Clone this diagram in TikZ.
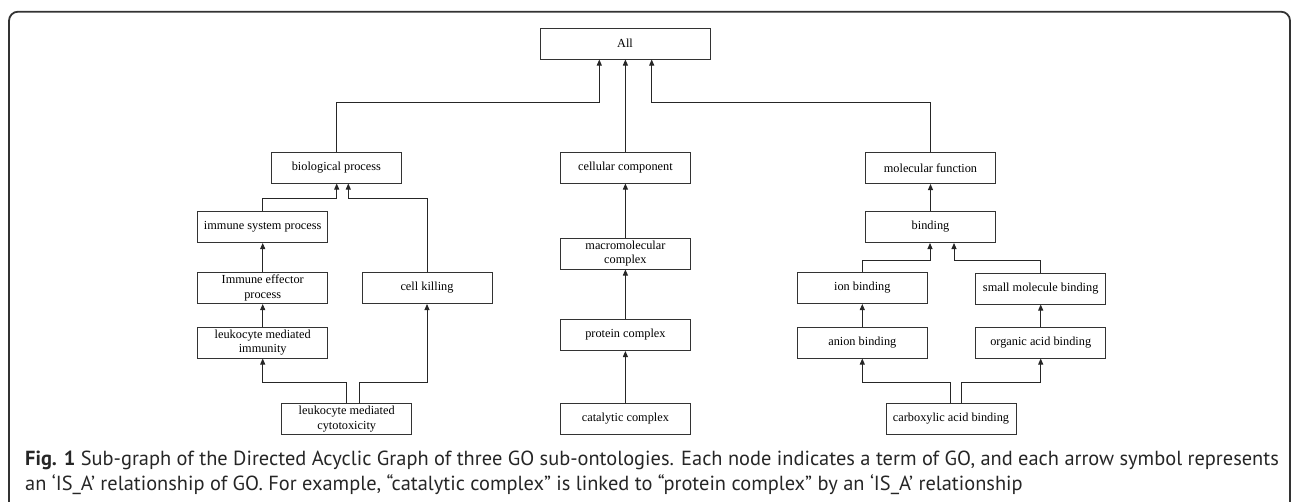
\documentclass[tikz,border=0pt]{standalone}
\usepackage{fontspec}
\setmainfont{Liberation Serif}
\newfontfamily\capfont{PT Sans}
\usetikzlibrary{arrows.meta}
\begin{document}
\begin{tikzpicture}[x=1pt,y=-1pt,
  term/.style={draw=black!80,line width=1pt,minimum width=130pt,minimum height=31pt,inner sep=1pt,align=center,
    font=\fontsize{12.3}{14.7}\selectfont},
  isa/.style={draw=black!85,line width=0.9pt,-{Triangle[length=6pt,width=5pt]}},
  captext/.style={anchor=base west,inner sep=0pt,text=black!85,font=\capfont\fontsize{20.4}{24}\selectfont}]
\useasboundingbox (0,0) rectangle (1293,501);
\clip (0,0) rectangle (1293,501);
\draw[black!80,line width=1.8pt,rounded corners=9pt] (9,11.7) rectangle (1290,560);
% nodes
\node[term,minimum width=170pt] (all) at (625,43.5) {All};
\node[term] (bio) at (336.4,167.5) {biological process};
\node[term] (cc) at (625.4,167.5) {cellular component};
\node[term] (mf) at (930.5,168) {molecular function};
\node[term] (isp) at (262.7,227) {immune system process};
\node[term] (bind) at (930.5,227) {binding};
\node[term] (iep) at (262.7,288) {Immune effector\\process};
\node[term] (ck) at (427,288) {cell killing};
\node[term] (mc) at (625.4,253.5) {macromolecular\\complex};
\node[term] (ion) at (862.3,288) {ion binding};
\node[term] (smb) at (1040.7,288.5) {small molecule binding};
\node[term] (lmi) at (262.7,342.5) {leukocyte mediated\\immunity};
\node[term] (pc) at (625.4,335) {protein complex};
\node[term] (anb) at (862.3,342.5) {anion binding};
\node[term] (oab) at (1040.7,342.5) {organic acid binding};
\node[term] (lmc) at (346.7,419) {leukocyte mediated\\cytotoxicity};
\node[term] (catc) at (625.4,419) {catalytic complex};
\node[term] (cab) at (951,419) {carboxylic acid binding};
% junction levels
\coordinate (yA) at (0,102.7);
\coordinate (yB) at (0,198.3);
\coordinate (yC) at (0,260.7);
\coordinate (yD) at (0,382.3);
% connectors
\draw[isa] (bio.north) -- (bio.north |- yA) -| ([xshift=-25.7pt]all.south);
\draw[isa] (cc.north) -- (cc.north |- all.south);
\draw[isa] (mf.north) -- (mf.north |- yA) -| ([xshift=26.7pt]all.south);
\draw[isa] (isp.north) -- (isp.north |- yB) -| ([xshift=0.3pt]bio.south);
\draw[isa] (ck.north) -- (ck.north |- yB) -| ([xshift=11.9pt]bio.south);
\draw[isa] (iep.north) -- (isp.south);
\draw[isa] (lmi.north) -- (iep.south);
\draw[isa] (lmc.north) -- (lmc.north |- yD) -| (lmi.south);
\draw[isa] ([xshift=12.3pt]lmc.north) -- ([xshift=12.3pt]lmc.north |- yD) -| (ck.south);
\draw[isa] (mc.north) -- (cc.south);
\draw[isa] (pc.north) -- (mc.south);
\draw[isa] (catc.north) -- (pc.south);
\draw[isa] (bind.north) -- (mf.south);
\draw[isa] (ion.north) -- (ion.north |- yC) -| ([xshift=-0.5pt]bind.south);
\draw[isa] (smb.north) -- (smb.north |- yC) -| ([xshift=23.5pt]bind.south);
\draw[isa] (anb.north) -- (ion.south);
\draw[isa] (oab.north) -- (smb.south);
\draw[isa] ([xshift=-0.3pt]cab.north) -- ([xshift=-0.3pt]cab.north |- yD) -| (anb.south);
\draw[isa] ([xshift=10.7pt]cab.north) -- ([xshift=10.7pt]cab.north |- yD) -| (oab.south);
% caption
\node[captext] (cap1) at (25,465) {\textbf{Fig. 1} Sub-graph of the Directed Acyclic Graph of three GO sub-ontologies. Each node indicates a term of GO, and each arrow symbol represents};
\node[captext] (cap2) at (25,490.7) {an ‘IS\_A’ relationship of GO. For example, “catalytic complex” is linked to “protein complex” by an ‘IS\_A’ relationship};
\end{tikzpicture}
\end{document}
